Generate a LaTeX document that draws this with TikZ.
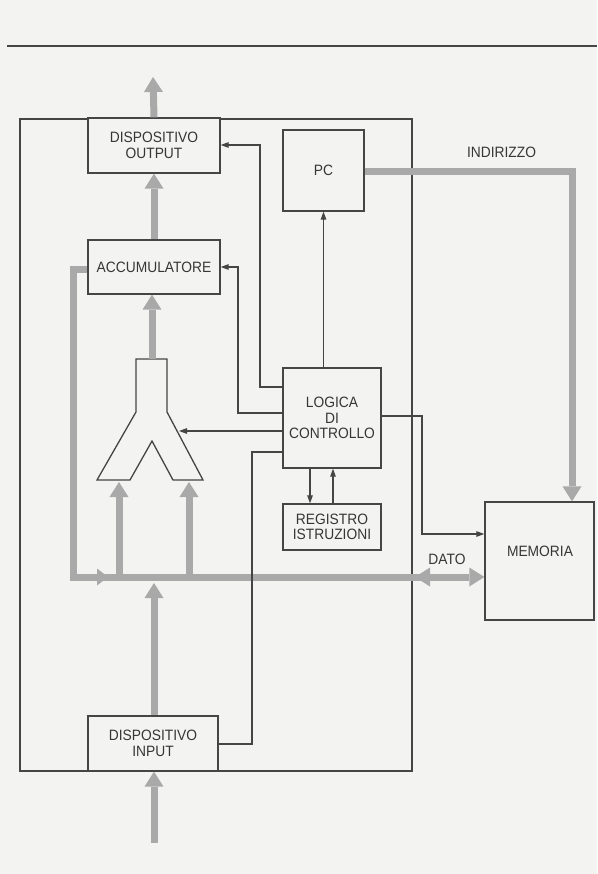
\documentclass[tikz,border=0pt]{standalone}
\usepackage{fontspec}
\setmainfont[FakeStretch=0.92]{Liberation Sans}
\usetikzlibrary{arrows.meta}
\definecolor{bg}{HTML}{F3F3F1}
\definecolor{ink}{HTML}{454545}
\definecolor{txt}{HTML}{363636}
\definecolor{busgray}{HTML}{A9A9A9}
\begin{document}
\begin{tikzpicture}[x=1pt,y=-1pt,
  box/.style={draw=ink, line width=1.3pt, text=txt, align=center, inner sep=0pt,
    font=\fontsize{15}{15.5}\selectfont},
  lbl/.style={text=txt, align=center, inner sep=0pt, font=\fontsize{15}{15.5}\selectfont},
  conn/.style={draw=ink, line width=1.15pt},
  thinarrow/.style={conn, -{Triangle[width=5.5pt,length=8pt]}},
  buspath/.style={draw=busgray, line width=7pt, line join=miter},
  fatarrow/.style={buspath, -{Triangle[width=19pt,length=15pt,line width=0pt]}},
  fatboth/.style={buspath, {Triangle[width=19pt,length=15pt,line width=0pt]}-{Triangle[width=19pt,length=15pt,line width=0pt]}}
]
\fill[bg] (0,0) rectangle (597,874);
\useasboundingbox (0,0) rectangle (597,874);

% page rule
\draw[ink, line width=1.5pt] (7,46) -- (597,46);

% outer CPU frame
\node[draw=ink, line width=1.3pt, minimum width=392pt, minimum height=652pt, inner sep=0pt] (cpu) at (216,445) {};

% boxes
\node[box, minimum width=132pt, minimum height=55pt, fill=bg] (out) at (154,145.5) {DISPOSITIVO\\OUTPUT};
\node[box, minimum width=81pt, minimum height=81pt] (pc) at (323.5,170.5) {PC};
\node[box, minimum width=132pt, minimum height=54pt] (acc) at (154,267) {ACCUMULATORE};
\node[box, minimum width=98pt, minimum height=100pt] (logic) at (332,418) {LOGICA\\DI\\CONTROLLO};
\node[box, minimum width=98pt, minimum height=46pt] (reg) at (332,527) {REGISTRO\\ISTRUZIONI};
\node[box, minimum width=109pt, minimum height=118pt] (mem) at (539.5,561) {};
\node[lbl] (memlbl) at (540,551) {MEMORIA};
\node[box, minimum width=130pt, minimum height=55pt, fill=bg] (in) at (153,743.5) {DISPOSITIVO\\INPUT};

% ALU (Y shape)
\draw[ink, line width=1.3pt, line join=miter] (136,359) -- (167,359) -- (167,412) -- (203,480) -- (173,480)
  -- (152,441) -- (130,480) -- (97,480) -- (136,412) -- cycle;
\coordinate (alutop) at (152,359);
\coordinate (aluright) at (179,431);
\coordinate (aluinA) at (119,482);
\coordinate (aluinB) at (189,482);

% labels
\node[lbl] (indir) at (501.5,152) {INDIRIZZO};
\node[lbl] (dato) at (447,559) {DATO};

% free ends
\coordinate (outtip) at (153,77);
\coordinate (intail) at (154,843);
\coordinate (busL) at (73,577);
\coordinate (busA) at (119,577);
\coordinate (busB) at (189,577);
\coordinate (busin) at (154,583);

% gray data paths
\draw[buspath] (acc.west |- 0,270) -- (73,270) -- (busL) -- (430,577);
\draw[fatboth] (415,577) -- (mem.west |- 0,577);
\draw[buspath, -{Triangle[width=17pt,length=11pt,line width=0pt]}] (90,577) -- (108,577);
\draw[fatarrow] (busA) -- (aluinA);
\draw[fatarrow] (busB) -- (aluinB);
\draw[fatarrow] (alutop) -- (acc.south -| alutop);
\draw[fatarrow] (acc.north) -- (out.south);
\draw[fatarrow] (out.north) -- (outtip);
\draw[fatarrow] (in.north -| busin) -- (busin);
\draw[fatarrow] (intail) -- (in.south -| intail);
\draw[fatarrow] (pc.east |- 0,172) -- (572,172) -- (mem.north -| 572,0);

% control lines
\draw[thinarrow] (logic.west |- 0,387) -- (260,387) -- (260,145) -- (out.east |- 0,145);
\draw[thinarrow] (logic.west |- 0,413) -- (238,413) -- (238,267) -- (acc.east);
\draw[thinarrow] (logic.west |- 0,431) -- (aluright);
\draw[thinarrow] (pc.south |- logic.north) -- (pc.south);
\draw[thinarrow] (logic.south -| 310,0) -- (reg.north -| 310,0);
\draw[thinarrow] (reg.north -| 333,0) -- (logic.south -| 333,0);
\draw[conn] (in.east |- 0,744) -- (252,744) -- (252,452) -- (logic.west |- 0,452);
\draw[thinarrow] (logic.east |- 0,416) -- (422,416) -- (422,534) -- (mem.west |- 0,534);
\end{tikzpicture}
\end{document}
